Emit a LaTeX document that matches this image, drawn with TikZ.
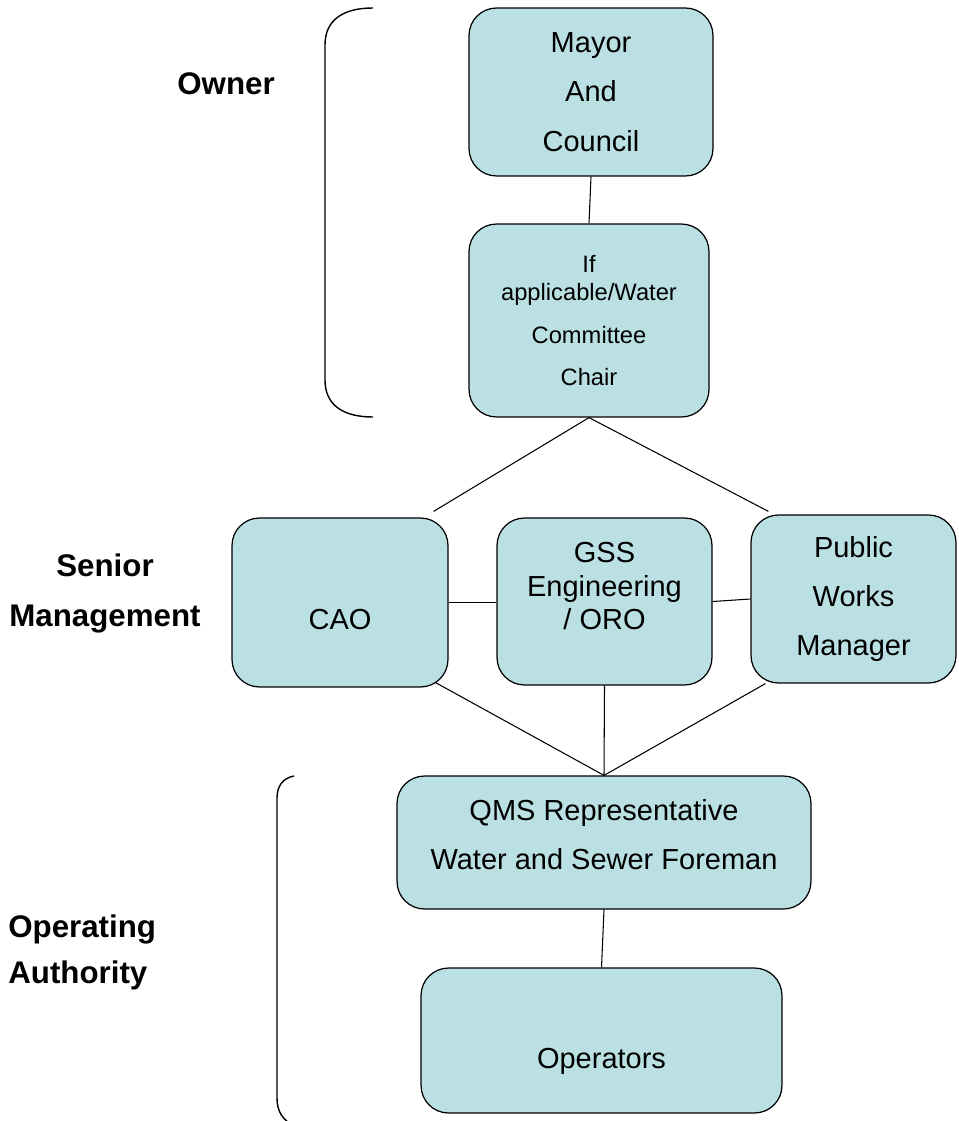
\documentclass[tikz,border=0pt]{standalone}
\usepackage{fontspec}
\setmainfont{Liberation Sans}
\definecolor{boxfill}{RGB}{187,224,227}
\tikzset{font={\fontsize{16.5pt}{28pt}\selectfont}}

\begin{document}
\begin{tikzpicture}[x=0.02cm,y=-0.02cm,
orgbox/.style={draw,line width=0.7pt,fill=boxfill,rounded corners=0.55cm,align=center,inner sep=0pt},
grouplabel/.style={font={\fontsize{17.8pt}{29pt}\selectfont\bfseries},inner sep=0pt},
link/.style={line width=0.6pt},
brace/.style={line width=0.8pt}
]
\useasboundingbox (0,0) rectangle (958,1121);

%boxes
\node[orgbox,minimum width=4.88cm,minimum height=3.36cm] (mayor) at (591,92) {Mayor\\And\\Council};
\node[orgbox,minimum width=4.8cm,minimum height=3.86cm,font={\fontsize{13.5pt}{16pt}\selectfont}] (cmte) at (589,320.5) {If\\applicable/Water\\[8pt]Committee\\[8pt]Chair};
\node[orgbox,minimum width=4.32cm,minimum height=3.38cm,text height=1.1cm,text depth=0cm] (cao) at (340,602.5) {CAO};
\node[orgbox,minimum width=4.3cm,minimum height=3.34cm,font={\fontsize{16.5pt}{19pt}\selectfont}] (gss) at (604.5,601.5) {GSS\\Engineering\\/ ORO\rule[-0.62cm]{0pt}{0.62cm}};
\node[orgbox,minimum width=4.1cm,minimum height=3.36cm] (pw) at (853.5,599) {Public\\Works\\Manager};
\node[orgbox,minimum width=8.28cm,minimum height=2.66cm] (qms) at (604,842.5) {QMS Representative\\Water and Sewer Foreman\rule[-0.32cm]{0pt}{0.32cm}};
\node[orgbox,minimum width=7.22cm,minimum height=2.9cm,text height=1.1cm,text depth=0cm] (ops) at (601.5,1040.5) {Operators};

%group labels
\node[grouplabel,anchor=base] (owner) at (226,95) {Owner};
\node[grouplabel,align=center] (senior) at (105,593.5) {Senior\\Management};
\node[grouplabel,align=left,anchor=west,font={\fontsize{17.8pt}{26pt}\selectfont\bfseries}] (operating) at (8,952.5) {Operating\\Authority};

%links
\draw[link] (mayor.south) -- (cmte.north);
\draw[link] ([xshift=-0.3cm,yshift=0.12cm]cao.north east) -- (cmte.south) -- ([xshift=0.36cm,yshift=0.06cm]pw.north west);
\draw[link] (cao.east) -- (cao.east -| gss.west);
\draw[link] (gss.east) -- (pw.west);
\draw[link] ([xshift=-0.26cm,yshift=0.1cm]cao.south east) -- (qms.north) -- ([xshift=0.3cm]pw.south west);
\draw[link] (gss.south) -- (qms.north);
\draw[link] (qms.south) -- (ops.north);

%brackets
\draw[brace] (373,8) .. controls (343,8) and (325,20) .. (325,45) -- (325,380) .. controls (325,405) and (343,417) .. (373,417);
\draw[brace] (294,776) .. controls (283,778) and (277,786) .. (277,798) -- (277,1098) .. controls (277,1112) and (283,1120) .. (294,1126);

\end{tikzpicture}
\end{document}
